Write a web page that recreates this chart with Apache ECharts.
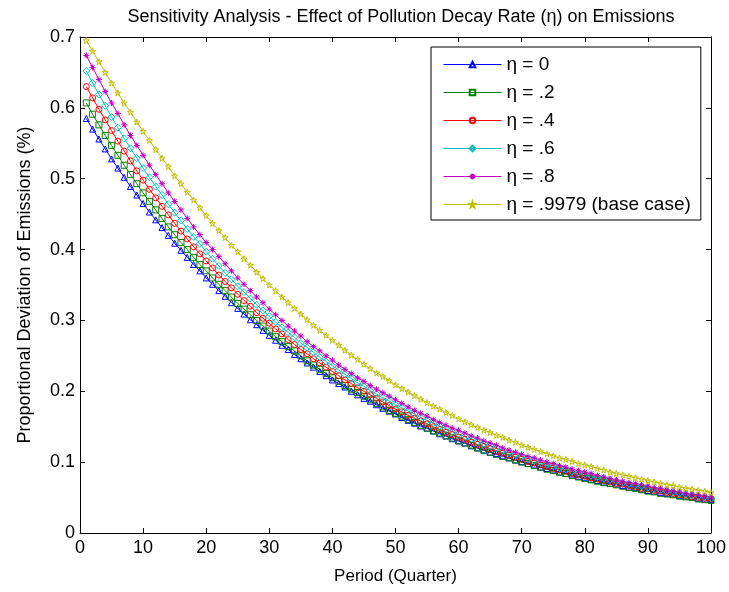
<!DOCTYPE html>
<html>
<head>
<meta charset="utf-8">
<title>Sensitivity Analysis</title>
<script src="https://cdn.jsdelivr.net/npm/echarts@6/dist/echarts.min.js"></script>
<style>
  html, body { margin: 0; padding: 0; background: #fff; }
  #chart { width: 729px; height: 592px; }
</style>
</head>
<body>
<div id="chart"></div>
<script>
// period index (quarters 1..100)
var periods = Array.from({ length: 100 }, function (_, i) { return i + 1; });

var etaLabels = ['η = 0', 'η = .2', 'η = .4', 'η = .6', 'η = .8', 'η = .9979 (base case)'];

var eta0 = [
  .585,.570,.556,.542,.528,.515,.502,.489,.477,.465,
  .453,.442,.431,.420,.409,.399,.389,.379,.370,.360,
  .351,.342,.334,.325,.317,.309,.301,.294,.286,.279,
  .272,.265,.259,.252,.246,.240,.234,.228,.222,.216,
  .211,.206,.200,.195,.190,.186,.181,.176,.172,.168,
  .163,.159,.155,.151,.148,.144,.140,.137,.133,.130,
  .127,.123,.120,.117,.114,.112,.109,.106,.103,.101,
  .098,.096,.093,.091,.089,.086,.084,.082,.080,.078,
  .076,.074,.072,.070,.069,.067,.065,.064,.062,.060,
  .059,.057,.056,.055,.053,.052,.051,.049,.048,.047
];
var eta02 = [
  .607,.591,.576,.561,.547,.533,.519,.506,.493,.480,
  .468,.456,.444,.432,.421,.410,.400,.389,.379,.370,
  .360,.351,.342,.333,.324,.316,.308,.300,.292,.285,
  .277,.270,.263,.257,.250,.243,.237,.231,.225,.219,
  .214,.208,.203,.198,.193,.188,.183,.178,.173,.169,
  .165,.160,.156,.152,.148,.144,.141,.137,.134,.130,
  .127,.124,.120,.117,.114,.111,.108,.106,.103,.100,
  .098,.095,.093,.090,.088,.086,.084,.081,.079,.077,
  .075,.073,.071,.070,.068,.066,.064,.063,.061,.059,
  .058,.056,.055,.054,.052,.051,.050,.048,.047,.046
];
var eta04 = [
  .630,.614,.598,.583,.568,.553,.539,.525,.511,.498,
  .485,.473,.461,.449,.437,.426,.415,.404,.394,.384,
  .374,.364,.355,.346,.337,.328,.320,.311,.303,.296,
  .288,.281,.273,.266,.259,.253,.246,.240,.234,.228,
  .222,.216,.211,.205,.200,.195,.190,.185,.180,.175,
  .171,.166,.162,.158,.154,.150,.146,.142,.139,.135,
  .132,.128,.125,.122,.119,.115,.113,.110,.107,.104,
  .101,.099,.096,.094,.091,.089,.087,.084,.082,.080,
  .078,.076,.074,.072,.070,.069,.067,.065,.063,.062,
  .060,.059,.057,.056,.054,.053,.051,.050,.049,.048
];
var eta06 = [
  .652,.635,.619,.603,.587,.572,.557,.543,.529,.515,
  .502,.489,.477,.464,.452,.441,.429,.418,.408,.397,
  .387,.377,.367,.358,.348,.340,.331,.322,.314,.306,
  .298,.290,.283,.276,.268,.262,.255,.248,.242,.236,
  .230,.224,.218,.212,.207,.201,.196,.191,.186,.181,
  .177,.172,.168,.163,.159,.155,.151,.147,.143,.140,
  .136,.133,.129,.126,.123,.120,.116,.113,.111,.108,
  .105,.102,.100,.097,.095,.092,.090,.087,.085,.083,
  .081,.079,.077,.075,.073,.071,.069,.067,.066,.064,
  .062,.061,.059,.058,.056,.055,.053,.052,.051,.049
];
var eta08 = [
  .674,.657,.640,.623,.607,.592,.576,.561,.547,.533,
  .519,.506,.493,.480,.468,.456,.444,.432,.421,.410,
  .400,.390,.380,.370,.360,.351,.342,.333,.325,.316,
  .308,.300,.292,.285,.278,.270,.263,.257,.250,.244,
  .237,.231,.225,.219,.214,.208,.203,.198,.193,.188,
  .183,.178,.173,.169,.165,.160,.156,.152,.148,.145,
  .141,.137,.134,.130,.127,.124,.120,.117,.114,.111,
  .108,.106,.103,.100,.098,.095,.093,.090,.088,.086,
  .084,.081,.079,.077,.075,.073,.071,.070,.068,.066,
  .064,.063,.061,.059,.058,.056,.055,.054,.052,.051
];
var etaBase = [
  .695,.680,.665,.650,.635,.621,.607,.594,.580,.567,
  .554,.541,.529,.517,.504,.493,.481,.470,.459,.448,
  .437,.427,.417,.406,.397,.387,.378,.368,.359,.350,
  .342,.333,.325,.317,.309,.301,.293,.286,.279,.272,
  .265,.258,.251,.245,.238,.232,.226,.221,.215,.209,
  .204,.199,.194,.189,.184,.179,.175,.170,.166,.161,
  .157,.153,.149,.145,.142,.138,.135,.131,.128,.124,
  .121,.118,.115,.112,.109,.106,.104,.101,.098,.096,
  .094,.091,.089,.086,.084,.082,.080,.078,.076,.074,
  .072,.070,.068,.067,.065,.063,.062,.060,.059,.057
];

var allSeries = [eta0, eta02, eta04, eta06, eta08, etaBase];
var colors = ['#0000ff', '#008000', '#ff0000', '#00bfbf', '#bf00bf', '#bfbf00'];
var symbols = [
  'triangle',
  'rect',
  'circle',
  'diamond',
  'path://M5,0L5,10M0,5L10,5M1.5,1.5L8.5,8.5M8.5,1.5L1.5,8.5',
  'path://M5,0L6.2,3.4L9.8,3.5L6.9,5.7L7.9,9.2L5,7.1L2.1,9.2L3.1,5.7L0.2,3.5L3.8,3.4Z'
];
var sizes = [6, 6, 6, 7, 6, 6];

var font = "'Liberation Sans', Arial, sans-serif";

var chart = echarts.init(document.getElementById('chart'), null, { renderer: 'canvas' });

var series = allSeries.map(function (vals, k) {
  return {
    name: etaLabels[k],
    type: 'line',
    xAxisIndex: 0,
    yAxisIndex: 0,
    data: vals.map(function (v, i) { return [periods[i], v]; }),
    symbol: symbols[k],
    symbolSize: sizes[k],
    showSymbol: true,
    showAllSymbol: true,
    color: colors[k],
    lineStyle: { color: colors[k], width: 1 },
    itemStyle: { color: 'rgba(0,0,0,0)', borderColor: colors[k], borderWidth: 1 },
    emphasis: { disabled: true },
    animation: false
  };
});

var axisCommon = {
  axisLine: { show: true, onZero: false, lineStyle: { color: '#000', width: 1 } },
  axisTick: { show: true, inside: true, length: 5, lineStyle: { color: '#000' } },
  splitLine: { show: false }
};

var option = {
  backgroundColor: '#fff',
  animation: false,
  title: {
    text: 'Sensitivity Analysis - Effect of Pollution Decay Rate (η) on Emissions',
    left: 396,
    top: 3,
    textAlign: 'center',
    textStyle: { fontFamily: font, fontSize: 18, fontWeight: 'normal', color: '#000' }
  },
  legend: {
    orient: 'vertical',
    left: 431,
    top: 47,
    data: etaLabels,
    itemWidth: 58,
    itemHeight: 7,
    itemGap: 9,
    padding: [8, 10, 6, 12],
    borderColor: '#000',
    borderWidth: 1,
    backgroundColor: '#fff',
    lineStyle: { width: 1 },
    textStyle: { fontFamily: font, fontSize: 19, color: '#000', lineHeight: 18 }
  },
  grid: { left: 80, right: 16, top: 37, bottom: 59, containLabel: false },
  xAxis: [
    Object.assign({
      type: 'value', position: 'bottom', min: 0, max: 100, interval: 10,
      name: 'Period (Quarter)', nameLocation: 'middle', nameGap: 35,
      nameTextStyle: { fontFamily: font, fontSize: 17, color: '#000' },
      axisLabel: { fontFamily: font, fontSize: 18, color: '#000', margin: 6 }
    }, axisCommon),
    Object.assign({
      type: 'value', position: 'top', min: 0, max: 100, interval: 10,
      axisLabel: { show: false }
    }, axisCommon)
  ],
  yAxis: [
    Object.assign({
      type: 'value', position: 'left', min: 0, max: 0.7, interval: 0.1,
      name: 'Proportional Deviation of Emissions (%)', nameLocation: 'middle', nameGap: 46,
      nameTextStyle: { fontFamily: font, fontSize: 18, color: '#000' },
      axisLabel: { fontFamily: font, fontSize: 18, color: '#000', margin: 5 }
    }, axisCommon),
    Object.assign({
      type: 'value', position: 'right', min: 0, max: 0.7, interval: 0.1,
      axisLabel: { show: false }
    }, axisCommon)
  ],
  series: series
};

chart.setOption(option);
</script>
</body>
</html>
